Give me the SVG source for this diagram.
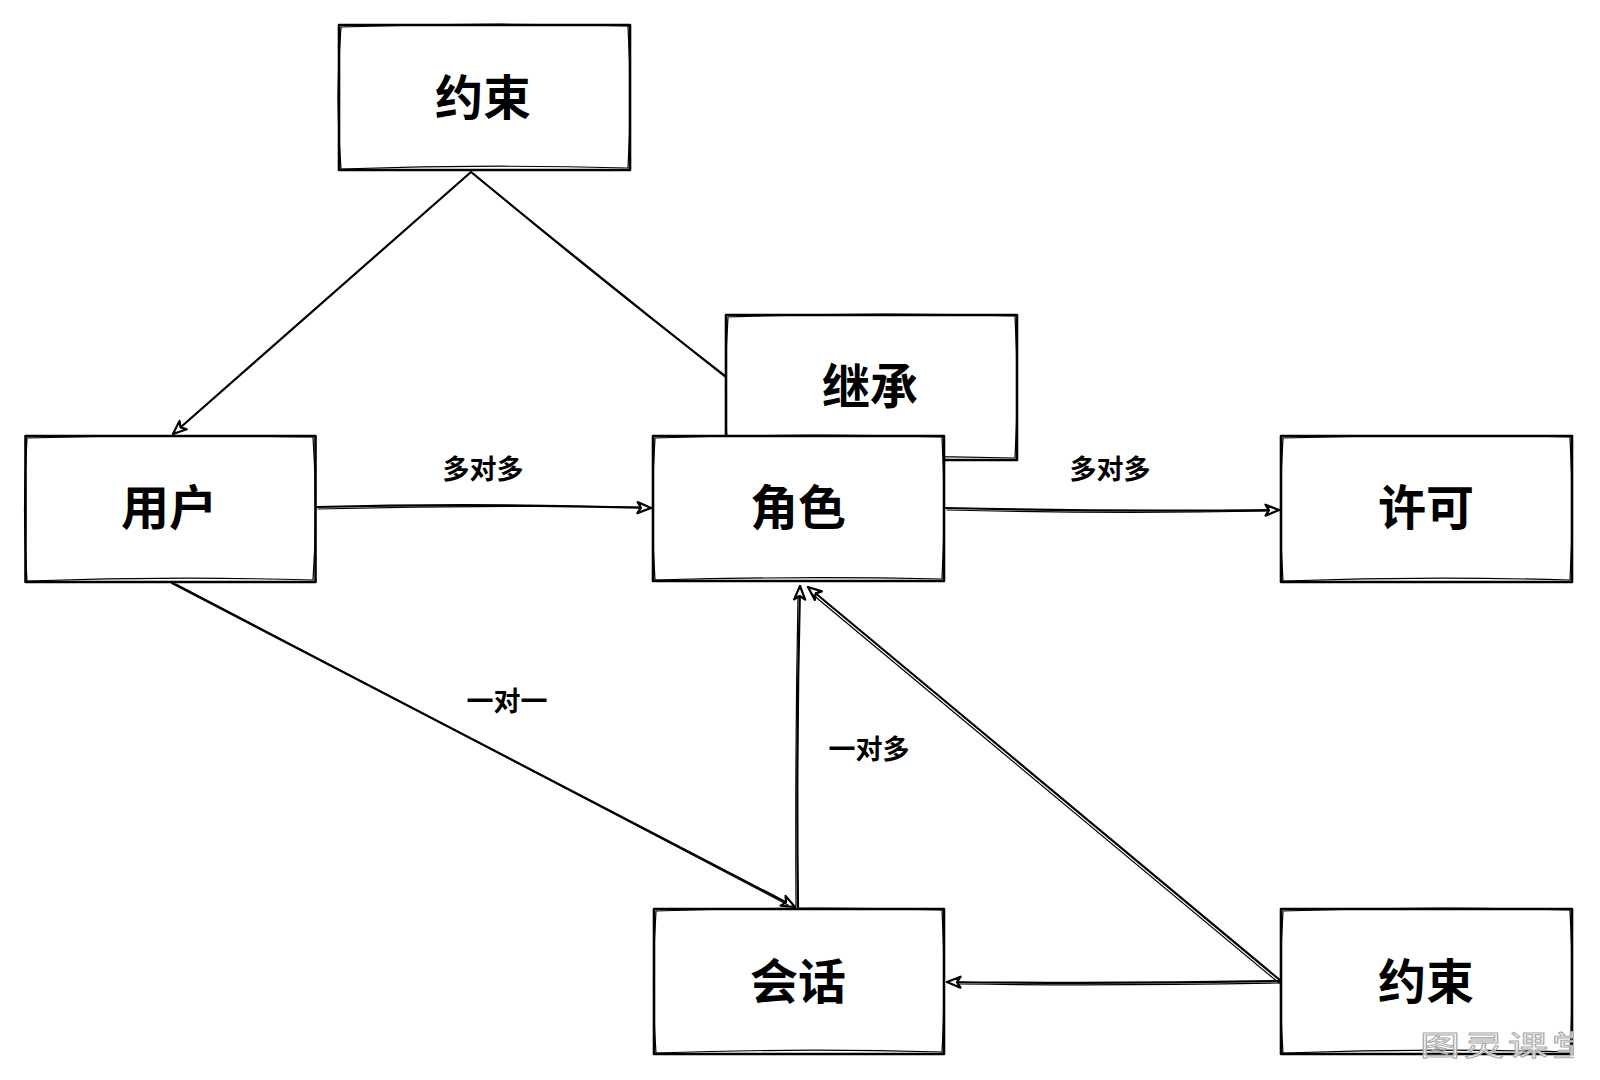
<svg xmlns="http://www.w3.org/2000/svg" width="1600" height="1080" viewBox="0 0 1600 1080">
<defs>
<style>
.box{fill:#fff;stroke:#000;stroke-width:2.6;stroke-linejoin:round}
.box2{fill:none;stroke:#000;stroke-width:1.2}
.t{font-family:"Noto Sans CJK SC","Noto Sans",sans-serif;font-weight:700;font-size:48px;fill:#000;text-anchor:middle;dominant-baseline:central}
.lbl{font-family:"Noto Sans CJK SC","Noto Sans",sans-serif;font-weight:700;font-size:27px;fill:#000;text-anchor:middle;dominant-baseline:central}
.c{fill:none;stroke:#000;stroke-width:2.2;stroke-linecap:round}
.c2{fill:none;stroke:#000;stroke-width:1.2;stroke-linecap:round}
.wm{font-family:"Noto Sans CJK SC",sans-serif;font-size:40px;letter-spacing:4px;fill:#fff;fill-opacity:0.8;stroke:#aaa;stroke-width:1.4}
</style>
<marker id="ah" viewBox="0 0 16 14" refX="15" refY="7" markerWidth="16" markerHeight="14" markerUnits="userSpaceOnUse" orient="auto">
<path d="M1.5,1.5 L15,7 L1.5,12.5 L5,7 Z" fill="#fff" stroke="#000" stroke-width="2.2" stroke-linejoin="round"/>
</marker>
<clipPath id="wmclip"><rect x="0" y="0" width="1574" height="1080"/></clipPath>
</defs>
<rect width="1600" height="1080" fill="#fff"/>

<g id="connectors">
<path class="c" d="M471,172 L173,434" marker-end="url(#ah)"/>
<path class="c" d="M471,172 Q600,278 727,378"/>
<path class="c2" d="M474,174 Q602,282 726,376"/>
<path class="c" d="M317,507 Q480,503 651,508" marker-end="url(#ah)"/>
<path class="c2" d="M318,509 Q480,505 640,507"/>
<path class="c" d="M946,508 Q1110,512 1279,510" marker-end="url(#ah)"/>
<path class="c2" d="M947,510 Q1110,514 1268,511"/>
<path class="c" d="M172,583 L795,907" marker-end="url(#ah)"/>
<path class="c2" d="M176,584 L788,905"/>
<path class="c" d="M798,907 Q796,750 800,586" marker-end="url(#ah)"/>
<path class="c2" d="M796,906 Q795,750 798,596"/>
<path class="c" d="M1281,981 L808,587" marker-end="url(#ah)"/>
<path class="c2" d="M1279,983 L812,594"/>
<path class="c" d="M1281,981 Q1110,984 947,982" marker-end="url(#ah)"/>
<path class="c2" d="M1280,983 Q1110,986 958,984"/>
</g>

<g id="labels">
<text class="lbl" x="483" y="467">多对多</text>
<text class="lbl" x="1110" y="467">多对多</text>
<text class="lbl" x="507" y="699">一对一</text>
<text class="lbl" x="869" y="747">一对多</text>
</g>

<g id="node-constraint-top">
<rect class="box" x="339" y="25" width="291" height="145"/>
<path class="box2" d="M341,27 Q485,22 628,26 Q632,98 628,168 Q485,164 341,169 Q335,98 341,27"/>
<text class="t" x="483" y="94">约束</text>
</g>

<g id="node-inherit">
<rect class="box" x="726" y="315" width="291" height="145"/>
<path class="box2" d="M728,317 Q870,312 1015,316 Q1019,388 1015,458 Q870,455 728,459 Q723,388 728,317"/>
<text class="t" x="870" y="383">继承</text>
</g>

<g id="node-user">
<rect class="box" x="25.5" y="436" width="290" height="146"/>
<path class="box2" d="M27,438 Q170,434 313,437 Q318,510 313,580 Q170,576 27,581 Q22,510 27,438"/>
<text class="t" x="169" y="504">用户</text>
</g>

<g id="node-role">
<rect class="box" x="653" y="436" width="291" height="145"/>
<path class="box2" d="M655,438 Q798,433 942,437 Q946,508 942,579 Q798,576 655,580 Q650,508 655,438"/>
<text class="t" x="798" y="504">角色</text>
</g>

<g id="node-permission">
<rect class="box" x="1281" y="436" width="291" height="146"/>
<path class="box2" d="M1283,438 Q1426,434 1570,437 Q1574,510 1570,580 Q1426,576 1283,581 Q1278,510 1283,438"/>
<text class="t" x="1426" y="504">许可</text>
</g>

<g id="node-session">
<rect class="box" x="654" y="909" width="290" height="145"/>
<path class="box2" d="M656,911 Q799,906 942,910 Q946,981 942,1052 Q799,1048 656,1053 Q651,981 656,911"/>
<text class="t" x="798" y="978">会话</text>
</g>

<g id="node-constraint-bottom">
<rect class="box" x="1281" y="909" width="291" height="145"/>
<path class="box2" d="M1283,911 Q1426,906 1570,910 Q1574,981 1570,1052 Q1426,1048 1283,1053 Q1278,981 1283,911"/>
<text class="t" x="1426" y="978">约束</text>
</g>

<g id="watermark" clip-path="url(#wmclip)">
<text class="wm" transform="translate(1420,1056) scale(1,0.7)" x="0" y="0">图灵课堂</text>
</g>
</svg>
